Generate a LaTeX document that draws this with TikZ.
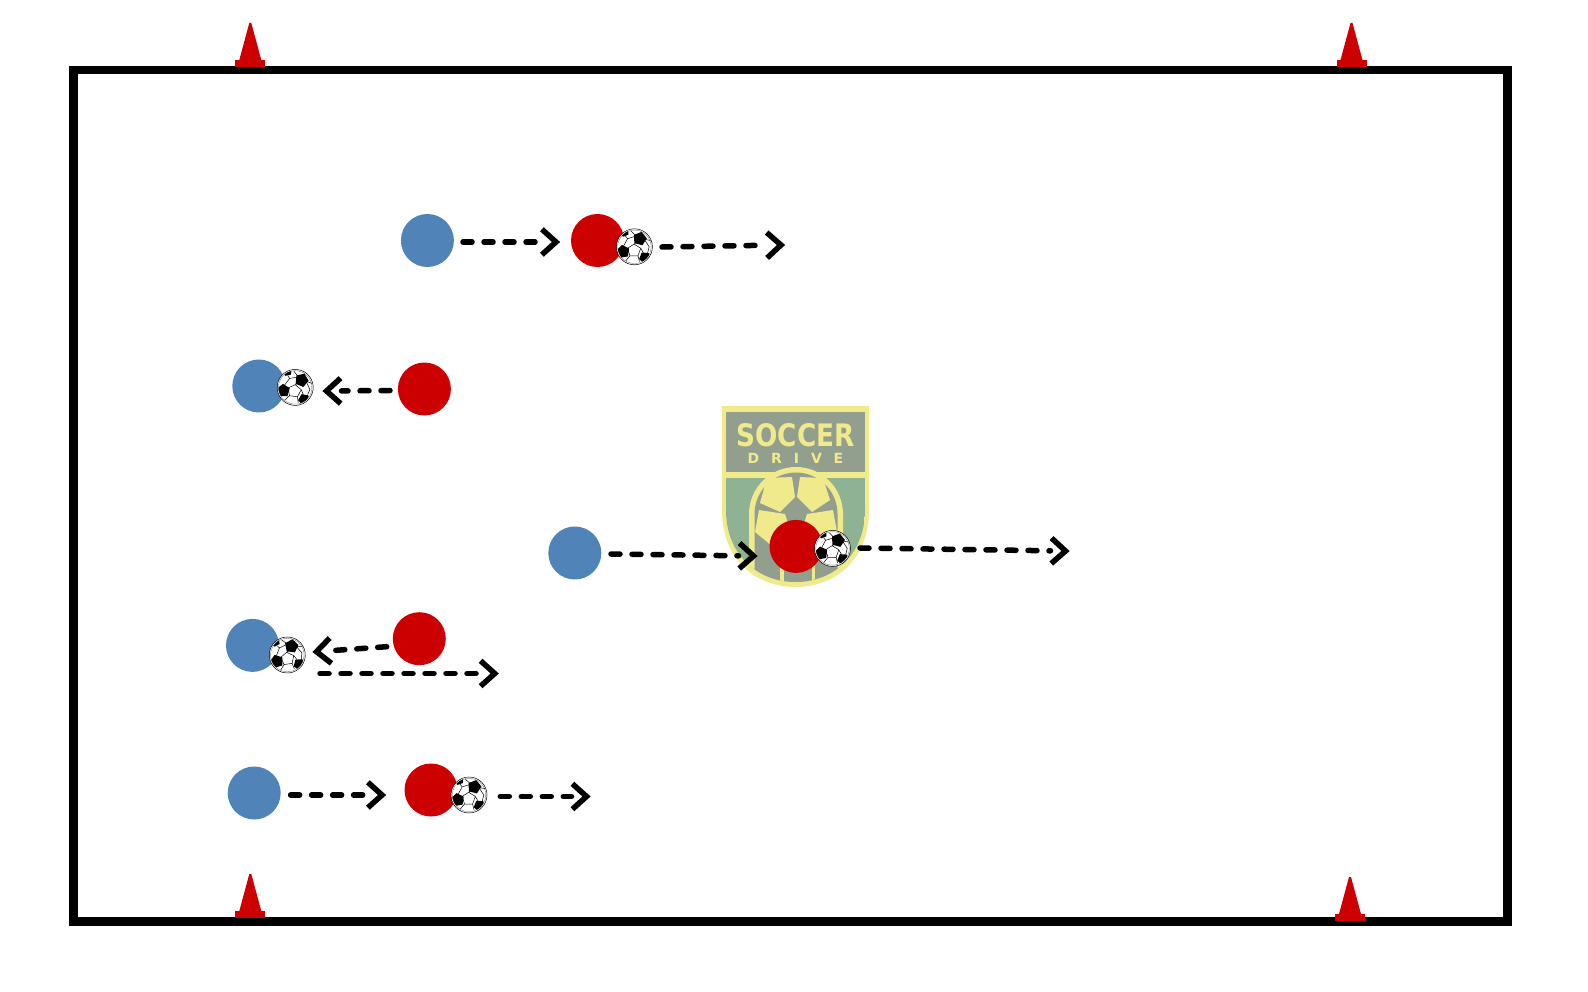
\documentclass[tikz,border=0pt]{standalone}
\usepackage{fontspec}
\usepackage{graphicx}
\setmainfont{Fira Sans}
\usetikzlibrary{calc}
\definecolor{pblue}{HTML}{5084B8}
\definecolor{pred}{HTML}{CC0000}
\definecolor{lyellow}{HTML}{F0EA8C}
\definecolor{lgrey}{HTML}{939F8E}
\definecolor{lgreen}{HTML}{8FB295}
\newcommand{\ballpatch}[4]{\fill[black,shift={(#1,#2)},rotate=#4] (90:#3) -- (162:#3) -- (234:#3) -- (306:#3) -- (18:#3) -- cycle;}
\tikzset{
  blueplayer/.style={circle,fill=pblue,minimum size=53pt,inner sep=0pt,draw=none},
  redplayer/.style={circle,fill=pred,minimum size=53pt,inner sep=0pt,draw=none},
  run/.style={line width=5.5pt,line cap=round,dash pattern=on 9pt off 12pt,shorten >=15pt},
  barb/.style={line width=5.5pt,line cap=butt,line join=miter,miter limit=10},
  cone/.pic={
    \fill[pred] (-11,37) -- (-1,0) -- (1,0) -- (11,37) -- cycle;
    \fill[pred] (-15,37) rectangle (15,44);
  },
  soccerball/.pic={
    \begin{scope}[x=18pt,y=18pt]
      \fill[white] (0,0) circle (1);
      \draw[black,line width=.5pt] (0,0) circle (1);
      \draw[black!60,line width=.3pt] (0,0) circle (.93);
      \draw[black,line width=.5pt]
        (-.02,.15) -- (.35,-.08) -- (.2,-.5) -- (-.25,-.5) -- (-.38,-.08) -- cycle
        (-.02,.15) -- (.2,.3) (.35,-.08) -- (.55,-.42) (.2,-.5) -- (.28,-.82)
        (-.25,-.5) -- (-.48,-.78) (-.38,-.08) -- (-.5,-.1)
        (.1,.6) -- (-.2,.88) (.1,.6) -- (-.38,.45) (-.38,.45) -- (-.5,.6) (-.38,.45) -- (-.6,.05)
        (.55,.42) -- (.9,.35) (.55,.42) -- (.82,.0) -- (.72,-.4);
      \begin{scope}
        \clip (0,0) circle (.93);
        \ballpatch{.3}{.45}{.39}{-15}
        \ballpatch{-.63}{-.27}{.38}{10}
        \ballpatch{.58}{-.6}{.33}{-40}
        \ballpatch{-.56}{.82}{.27}{20}
      \end{scope}
    \end{scope}
  },
}
\begin{document}
\begin{tikzpicture}[x=1pt,y=-1pt]
\useasboundingbox (0,0) rectangle (1588,992);
% logo
\fill[lyellow] (722,406) -- (869,406) -- (869,510)
  .. controls (869,560) and (835,587) .. (795.5,587)
  .. controls (756,587) and (722,560) .. (722,510) -- cycle;
\fill[lgrey] (726,412) rectangle (865,472);
\begin{scope}
  \clip (726,412) -- (865,412) -- (865,510)
    .. controls (865,556) and (832,582) .. (795.5,582)
    .. controls (759,582) and (726,556) .. (726,510) -- cycle;
  \fill[lgreen] (726,478) rectangle (865,590);
  \fill[lyellow] (726,472) rectangle (865,478);
  \fill[lyellow] (749,590) -- (749,514) arc[start angle=180,end angle=360,radius=47] -- (843,590) -- cycle;
  \fill[lgrey] (754.5,590) -- (754.5,514) arc[start angle=180,end angle=360,radius=41.5] -- (837.5,590) -- cycle;
  \fill[lyellow] (767,478) -- (792,477) -- (795,497) -- (780,512) -- (760,503) -- cycle;
  \fill[lyellow] (800,477) -- (823,478) -- (830,500) -- (812,512) -- (797,497) -- cycle;
  \fill[lyellow] (759,510) -- (785,514) -- (790,530) -- (772,546) -- (755,532) -- cycle;
  \fill[lyellow] (833,510) -- (807,514) -- (802,530) -- (820,546) -- (837,532) -- cycle;
  \fill[lyellow] (780,550) rectangle (783.5,590);
  \fill[lyellow] (811.5,550) rectangle (815,590);
\end{scope}
\node[inner sep=0pt,text=lyellow] (soccertext) at (795.5,435.5) {\resizebox{118pt}{23pt}{\fontspec{DejaVu Sans}\bfseries SOCCER}};
\node[inner sep=0pt,text=lyellow] (drivetext) at (795.5,458) {\fontspec{DejaVu Sans}[LetterSpace=85]\fontsize{14}{14}\selectfont\bfseries DRIVE};
% frame
\node[draw=black,line width=8.5pt,minimum width=1433.8pt,minimum height=851.5pt,inner sep=0pt] (field) at (790.6,495.75) {};
% cones
\pic at (250.3,23) {cone};
\pic at (1351.5,23) {cone};
\pic at (250.3,874) {cone};
\pic at (1350,877) {cone};
% players
\node[blueplayer] (b1) at (427.4,240.5) {};
\node[redplayer] (r1) at (597.5,240.5) {};
\node[blueplayer] (b2) at (258.8,386) {};
\node[redplayer] (r2) at (424.4,389) {};
\node[blueplayer] (b3) at (574.8,553) {};
\node[redplayer] (r3) at (796,546.4) {};
\node[blueplayer] (b4) at (252.5,645.4) {};
\node[redplayer] (r4) at (419.3,638.7) {};
\node[blueplayer] (b5) at (254.2,793) {};
\node[redplayer] (r5) at (431,790) {};
% balls
\pic at (634.4,246.8) {soccerball};
\pic[rotate=-8] at (295.2,387.4) {soccerball};
\pic at (832.5,548.4) {soccerball};
\pic[rotate=8] at (287.3,655) {soccerball};
\pic at (469,795) {soccerball};
% arrow ends
\coordinate (a1s) at (463,242); \coordinate (a1e) at (556,242);
\coordinate (a2s) at (662,247); \coordinate (a2e) at (781,245);
\coordinate (a3s) at (390,390.5); \coordinate (a3e) at (326.5,391);
\coordinate (a4s) at (611,554); \coordinate (a4e) at (753.5,556);
\coordinate (a5s) at (860,548); \coordinate (a5e) at (1065.5,551);
\coordinate (a6s) at (386.7,646.7); \coordinate (a6e) at (316.5,651.7);
\coordinate (a7s) at (320,673.5); \coordinate (a7e) at (494.7,673.5);
\coordinate (a8s) at (290.6,795); \coordinate (a8e) at (382,795);
\coordinate (a9s) at (500.3,796.5); \coordinate (a9e) at (586.5,796.5);
\foreach \n in {1,...,9} {
  \draw[run] (a\n s) -- (a\n e);
  \draw[barb] ($(a\n e)!19pt!42:(a\n s)$) -- (a\n e) -- ($(a\n e)!19pt!-42:(a\n s)$);
}
\end{tikzpicture}
\end{document}
